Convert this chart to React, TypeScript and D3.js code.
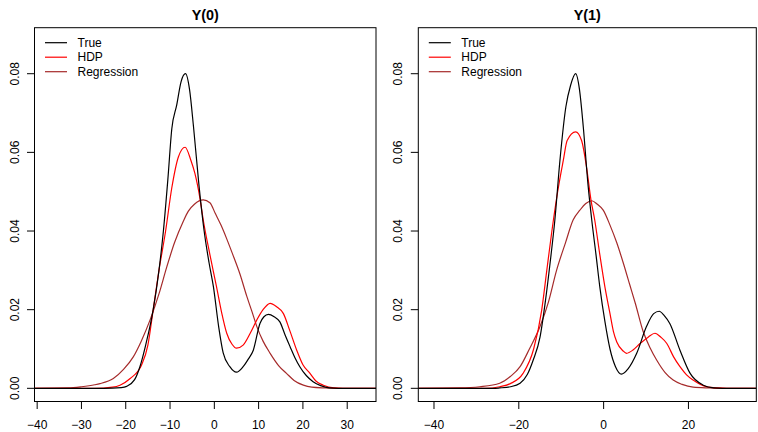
import React, { useEffect, useRef } from "react";
import * as d3 from "d3";

// curve readings, [x, density]
const titles = ["Y(0)", "Y(1)"];
const legendLabels = ["True", "HDP", "Regression"];
const lineColors = ["#000000", "#FF0000", "#A52A2A"];
const yTicks = [0, 0.02, 0.04, 0.06, 0.08];
const xTicksY0 = [-40, -30, -20, -10, 0, 10, 20, 30];
const xTicksY1 = [-40, -20, 0, 20];

const y0True: [number, number][] = [
  [-40.6, 0], [-25, 0], [-21, 0.0002], [-19.8, 0.0005], [-18, 0.0022], [-16.8, 0.0055],
  [-15.5, 0.011], [-13.8, 0.02], [-12.5, 0.03], [-11.5, 0.04], [-10.5, 0.053], [-9.6, 0.066],
  [-8.5, 0.072], [-7.5, 0.078], [-6.5, 0.08], [-5.6, 0.076], [-4.7, 0.0665], [-3.5, 0.052],
  [-2.3, 0.04], [-1.2, 0.032], [-0.2, 0.0258], [1, 0.0155], [2, 0.009], [3.5, 0.0055],
  [5, 0.0041], [6.5, 0.0055], [7.7, 0.0075], [8.8, 0.0097], [10.3, 0.0165], [11.2, 0.0182],
  [12.2, 0.0188], [13.5, 0.0182], [14.8, 0.0169], [16, 0.0135], [17.1, 0.0106], [18.2, 0.0078],
  [19.3, 0.0055], [20.8, 0.0032], [22.3, 0.0017], [24, 0.0007], [26, 0.0001], [28, 0], [36.5, 0],
];
const y0Hdp: [number, number][] = [
  [-40.6, 0], [-27, 0], [-23, 0.0003], [-21.3, 0.0008], [-19, 0.0025], [-16.4, 0.006],
  [-15, 0.011], [-13.8, 0.02], [-12.5, 0.03], [-11, 0.04], [-9.6, 0.051], [-8.1, 0.0589],
  [-6.6, 0.0613], [-5.3, 0.058], [-4.4, 0.0547], [-3.2, 0.048], [-2.5, 0.0428], [-1, 0.034],
  [0.5, 0.0258], [1.7, 0.019], [2.8, 0.014], [4, 0.0112], [5, 0.0102], [6.5, 0.011],
  [8.1, 0.014], [9.6, 0.0174], [11, 0.02], [12.6, 0.0216], [14, 0.0208], [15.6, 0.019],
  [17, 0.0148], [18.6, 0.0097], [20, 0.006], [21.6, 0.0038], [23, 0.0018], [24.6, 0.0008],
  [27, 0.0001], [29, 0], [36.5, 0],
];
const y0Reg: [number, number][] = [
  [-40.6, 0], [-33, 0.0001], [-30, 0.0004], [-27, 0.0009], [-25.8, 0.0012], [-22.8, 0.0025],
  [-20.5, 0.0048], [-18.3, 0.008], [-16.5, 0.012], [-14.5, 0.0174], [-12.5, 0.024],
  [-10.7, 0.031], [-9, 0.037], [-7, 0.0425], [-5.9, 0.045], [-4.5, 0.0468], [-2.5, 0.0479],
  [-1, 0.0472], [0.2, 0.0445], [1.5, 0.0415], [2.8, 0.038], [4, 0.0345], [5.8, 0.029],
  [7.3, 0.0235], [8.5, 0.0195], [9.6, 0.0157], [11, 0.012], [12.6, 0.0089], [14.5, 0.0058],
  [16.3, 0.0038], [18, 0.002], [20.1, 0.0008], [22, 0.0003], [25, 0.0001], [28, 0], [36.5, 0],
];

const y1True: [number, number][] = [
  [-43.7, 0], [-26, 0], [-24.5, 0.0001], [-22, 0.0004], [-19.7, 0.0013], [-18, 0.0035],
  [-16.6, 0.0072], [-15, 0.013], [-13.8, 0.0216], [-12.5, 0.033], [-11.5, 0.0428],
  [-10.3, 0.058], [-8.9, 0.0716], [-7.8, 0.077], [-6.6, 0.08], [-5.7, 0.076], [-4.8, 0.0665],
  [-3.7, 0.052], [-2.8, 0.0428], [-1.8, 0.034], [-0.9, 0.0258], [0.3, 0.017], [1.5, 0.01],
  [2.8, 0.0055], [4.2, 0.0036], [5.8, 0.005], [7.8, 0.0089], [10.1, 0.0157], [11.8, 0.019],
  [13.1, 0.0196], [14.3, 0.0185], [15.6, 0.0165], [18, 0.0097], [20.4, 0.0038], [23.5, 0.0008],
  [26, 0.0001], [28, 0], [36, 0],
];
const y1Hdp: [number, number][] = [
  [-43.7, 0], [-28, 0], [-24.5, 0.0004], [-22, 0.0012], [-19, 0.0038], [-16.5, 0.01],
  [-14.6, 0.0199], [-13.4, 0.03], [-12.2, 0.04], [-10.9, 0.0496], [-9.5, 0.058],
  [-8.6, 0.063], [-6.6, 0.0652], [-5.2, 0.063], [-4, 0.056], [-3, 0.048], [-2.1, 0.0428],
  [-0.9, 0.034], [0.3, 0.0258], [1.5, 0.019], [2.3, 0.0145], [3.1, 0.0118], [4.6, 0.0095],
  [5.4, 0.0089], [7, 0.0098], [8.6, 0.0114], [10.5, 0.013], [12.1, 0.014], [13.5, 0.013],
  [14.9, 0.0114], [16.5, 0.008], [18, 0.0055], [19.5, 0.0035], [21.1, 0.0021], [24.3, 0.0004],
  [27, 0.0001], [29, 0], [36, 0],
];
const y1Reg: [number, number][] = [
  [-43.7, 0], [-34, 0.0001], [-29.2, 0.0004], [-24.5, 0.0013], [-22, 0.003], [-19.7, 0.0055],
  [-17.5, 0.01], [-15, 0.0157], [-13, 0.022], [-11.1, 0.03], [-9, 0.037], [-7.2, 0.0428],
  [-5.6, 0.0453], [-4.2, 0.047], [-2.8, 0.0477], [-1.5, 0.0468], [-0.1, 0.0453], [1.5, 0.0415],
  [3.1, 0.037], [4.6, 0.032], [6.2, 0.0262], [7.5, 0.0215], [9.3, 0.0145], [11, 0.0102],
  [12.5, 0.0072], [14.5, 0.004], [16.4, 0.0021], [18.5, 0.001], [21.1, 0.0003], [25, 0.0001],
  [28, 0], [36, 0],
];

const W = 758;
const H = 432;
const FONT = "Liberation Sans, Arial, Helvetica, sans-serif";

const panels = [
  { title: titles[0], series: [y0True, y0Hdp, y0Reg], xDomain: [-40.6, 36.5], xTicks: xTicksY0,
    left: 34.5, right: 376, top: 27.7, bottom: 401.5 },
  { title: titles[1], series: [y1True, y1Hdp, y1Reg], xDomain: [-43.7, 36.0], xTicks: xTicksY1,
    left: 418.3, right: 756.3, top: 27.7, bottom: 401.5 },
];

const fmt = (v: number) => (v < 0 ? "\u2212" + Math.abs(v) : String(v));

export default function App() {
  const ref = useRef<SVGSVGElement>(null);

  useEffect(() => {
    const svg = d3.select(ref.current);
    svg.selectAll("*").remove();

    panels.forEach((p, i) => {
      const x = d3.scaleLinear().domain(p.xDomain).range([p.left, p.right]);
      const y = d3.scaleLinear().domain([-0.00335, 0.0917]).range([p.bottom, p.top]);
      const g = svg.append("g");

      g.append("clipPath").attr("id", "clip" + i)
        .append("rect")
        .attr("x", p.left).attr("y", p.top)
        .attr("width", p.right - p.left).attr("height", p.bottom - p.top);

      const line = d3.line<[number, number]>()
        .x(d => x(d[0]))
        .y(d => y(d[1]))
        .curve(d3.curveMonotoneX);

      // draw regression first so true sits on top
      [2, 1, 0].forEach(k => {
        g.append("path")
          .attr("d", line(p.series[k]) || "")
          .attr("fill", "none")
          .attr("stroke", lineColors[k])
          .attr("stroke-width", 1.2)
          .attr("clip-path", `url(#clip${i})`);
      });

      g.append("rect")
        .attr("x", p.left).attr("y", p.top)
        .attr("width", p.right - p.left).attr("height", p.bottom - p.top)
        .attr("fill", "none").attr("stroke", "#000").attr("stroke-width", 1);

      // y axis
      yTicks.forEach(t => {
        g.append("line")
          .attr("x1", p.left - 7.5).attr("x2", p.left)
          .attr("y1", y(t)).attr("y2", y(t))
          .attr("stroke", "#000");
        g.append("text")
          .attr("transform", `translate(${p.left - 16},${y(t)}) rotate(-90)`)
          .attr("text-anchor", "middle")
          .attr("font-family", FONT).attr("font-size", 12)
          .text(t.toFixed(2));
      });

      // x axis
      p.xTicks.forEach(t => {
        g.append("line")
          .attr("x1", x(t)).attr("x2", x(t))
          .attr("y1", p.bottom).attr("y2", p.bottom + 7.5)
          .attr("stroke", "#000");
        g.append("text")
          .attr("x", x(t)).attr("y", p.bottom + 27)
          .attr("text-anchor", "middle")
          .attr("font-family", FONT).attr("font-size", 12)
          .text(fmt(t));
      });

      g.append("text")
        .attr("x", (p.left + p.right) / 2).attr("y", 19.5)
        .attr("text-anchor", "middle")
        .attr("font-family", FONT).attr("font-size", 14.4).attr("font-weight", "bold")
        .text(p.title);

      // legend
      legendLabels.forEach((lab, k) => {
        const ly = 42.7 + k * 14.5;
        g.append("line")
          .attr("x1", p.left + 10.5).attr("x2", p.left + 32.5)
          .attr("y1", ly).attr("y2", ly)
          .attr("stroke", lineColors[k]).attr("stroke-width", 1.2);
        g.append("text")
          .attr("x", p.left + 43).attr("y", ly + 4)
          .attr("font-family", FONT).attr("font-size", 12)
          .text(lab);
      });
    });
  }, []);

  return (
    <svg ref={ref} width={W} height={H}
      style={{ position: "absolute", left: 0, top: 0, background: "#fff" }} />
  );
}
